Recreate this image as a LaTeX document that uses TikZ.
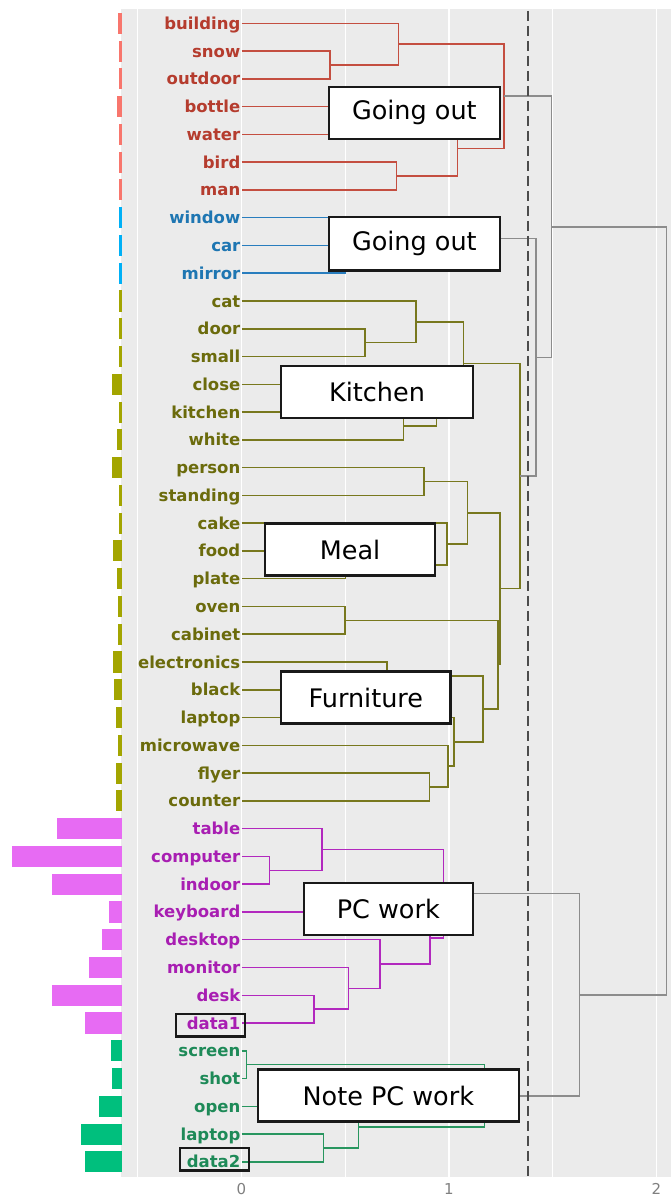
\documentclass[tikz,border=0pt]{standalone}
\usepackage{fontspec}
\setmainfont{DejaVu Sans}
\usetikzlibrary{fit}
\definecolor{tR}{RGB}{181,60,46}\definecolor{lR}{RGB}{196,78,64}\definecolor{bR}{HTML}{F8766D}
\definecolor{tB}{RGB}{30,118,178}\definecolor{lB}{RGB}{40,125,190}\definecolor{bB}{HTML}{00B0F6}
\definecolor{tO}{RGB}{107,107,12}\definecolor{lO}{RGB}{120,120,30}\definecolor{bO}{HTML}{A3A500}
\definecolor{tM}{RGB}{168,30,178}\definecolor{lM}{RGB}{178,40,190}\definecolor{bM}{HTML}{E76BF3}
\definecolor{tG}{RGB}{30,138,88}\definecolor{lG}{RGB}{40,150,95}\definecolor{bG}{HTML}{00BF7D}
\definecolor{lK}{RGB}{140,140,140}\definecolor{panelgrey}{HTML}{EBEBEB}
\tikzset{
  leaf/.style={anchor=east,inner xsep=1pt,inner ysep=0pt,font=\fontsize{16.5}{18}\selectfont\bfseries,text height=12pt,text depth=0pt},
  twig/.style={line width=1.5pt},
  twigR/.style={twig,draw=lR}, twigB/.style={twig,draw=lB}, twigO/.style={twig,draw=lO},
  twigM/.style={twig,draw=lM}, twigG/.style={twig,draw=lG}, twigK/.style={twig,draw=lK},
  tag/.style={draw=black!90,line width=2.2pt,fill=white,minimum height=52pt,inner sep=0pt,font=\fontsize{25.5}{28}\selectfont},
  hilite/.style={draw=black!90,line width=2.2pt,inner xsep=6.5pt,inner ysep=5.2pt},
  gmaj/.style={draw=white,line width=1.8pt},
  gmin/.style={draw=white,line width=1pt},
  cutline/.style={draw=black!70,line width=2pt,dash pattern=on 10pt off 5pt},
  tick/.style={text=black!50,font=\fontsize{15}{17}\selectfont},
}
\begin{document}
\begin{tikzpicture}[x=207.5pt,y=-27.77pt]
  \useasboundingbox (-1.1639,0.161) rectangle (2.0699,43.229);
  \fill[panelgrey] (-0.5807,0.485) rectangle (2.0699,42.53);
  \foreach \v in {-0.5,0.5,1.5} \draw[gmin] (\v,0.485) -- (\v,42.53);
  \foreach \v in {0,1,2} \draw[gmaj] (\v,0.485) -- (\v,42.53);
  \foreach \v in {0,1,2} \node[tick] (t\v) at (\v,42.98) {\v};

  \foreach \key/\word/\grp/\len [count=\i] in {
    building/building/R/3.3, snow/snow/R/2.7, outdoor/outdoor/R/2.7, bottle/bottle/R/4.3,
    water/water/R/2.7, bird/bird/R/2.7, man/man/R/2.7,
    window/window/B/2.7, car/car/B/2.7, mirror/mirror/B/2.7,
    cat/cat/O/2.7, door/door/O/2.7, small/small/O/2.7, close/close/O/10, kitchen/kitchen/O/2.7,
    white/white/O/5, person/person/O/9.3, standing/standing/O/2.7, cake/cake/O/2.7, food/food/O/8.3,
    plate/plate/O/4.5, oven/oven/O/3.3, cabinet/cabinet/O/3.3, electronics/electronics/O/8.3,
    black/black/O/7.3, laptop/laptop/O/5.3, microwave/microwave/O/3.3, flyer/flyer/O/6, counter/counter/O/6,
    table/table/M/65, computer/computer/M/110, indoor/indoor/M/69.3, keyboard/keyboard/M/12.7,
    desktop/desktop/M/20, monitor/monitor/M/32.7, desk/desk/M/69.3, data1/data1/M/36.7,
    screen/screen/G/11, shot/shot/G/10, open/open/G/22.7, laptop2/laptop/G/41, data2/data2/G/36.7}
  {
    \fill[b\grp] ({-0.577-\len/207.5},\i-0.38) rectangle (-0.577,\i+0.38);
    \node[leaf,text=t\grp] (\key) at (0,\i) {\word};
  }

  \coordinate (so) at (0.427,2.5);   \coordinate (bso) at (0.756,1.75);
  \coordinate (bw) at (0.60,4.5);    \coordinate (bm) at (0.748,6.5);
  \coordinate (bwbm) at (1.04,5.5);  \coordinate (redtop) at (1.265,3.625);
  \draw[twigR] (snow) -| (so) |- (outdoor);
  \draw[twigR] (building) -| (bso) |- (so);
  \draw[twigR] (bottle) -| (bw) |- (water);
  \draw[twigR] (bird) -| (bm) |- (man);
  \draw[twigR] (bw) -| (bwbm) |- (bm);
  \draw[twigR] (bso) -| (redtop) |- (bwbm);

  \coordinate (cm) at (0.5,9.5);     \coordinate (bluetop) at (1.1,8.75);
  \draw[twigB] (car) -| (cm) |- (mirror);
  \draw[twigB] (window) -| (bluetop) |- (cm);

  \coordinate (ds) at (0.595,12.5);  \coordinate (cds) at (0.841,11.75);
  \coordinate (kw) at (0.78,15.5);   \coordinate (ckw) at (0.94,14.75);
  \coordinate (kittop) at (1.07,13.25);
  \coordinate (ps) at (0.88,17.5);   \coordinate (fp) at (0.5,20.5);
  \coordinate (cfp) at (0.99,19.75); \coordinate (mealtop) at (1.09,18.625);
  \coordinate (oc) at (0.499,22.5);  \coordinate (eb) at (0.70,24.5);
  \coordinate (fc) at (0.905,28.5);  \coordinate (mfc) at (0.994,27.75);
  \coordinate (lmfc) at (1.024,26.875); \coordinate (furntop) at (1.163,25.6875);
  \coordinate (ocf) at (1.235,24.09375); \coordinate (mocf) at (1.245,21.359375);
  \coordinate (olivetop) at (1.342,17.3046875);
  \draw[twigO] (door) -| (ds) |- (small);
  \draw[twigO] (cat) -| (cds) |- (ds);
  \draw[twigO] (kitchen) -| (kw) |- (white);
  \draw[twigO] (close) -| (ckw) |- (kw);
  \draw[twigO] (cds) -| (kittop) |- (ckw);
  \draw[twigO] (person) -| (ps) |- (standing);
  \draw[twigO] (food) -| (fp) |- (plate);
  \draw[twigO] (cake) -| (cfp) |- (fp);
  \draw[twigO] (ps) -| (mealtop) |- (cfp);
  \draw[twigO] (oven) -| (oc) |- (cabinet);
  \draw[twigO] (electronics) -| (eb) |- (black);
  \draw[twigO] (flyer) -| (fc) |- (counter);
  \draw[twigO] (microwave) -| (mfc) |- (fc);
  \draw[twigO] (laptop) -| (lmfc) |- (mfc);
  \draw[twigO] (eb) -| (furntop) |- (lmfc);
  \draw[twigO] (oc) -| (ocf) |- (furntop);
  \draw[twigO] (mealtop) -| (mocf) |- (ocf);
  \draw[twigO] (kittop) -| (olivetop) |- (mocf);

  \coordinate (ci) at (0.134,31.5);  \coordinate (tci) at (0.387,30.75);
  \coordinate (dd) at (0.35,36.5);   \coordinate (mdd) at (0.515,35.75);
  \coordinate (dmdd) at (0.668,34.875); \coordinate (kd) at (0.908,33.9375);
  \coordinate (pctop) at (0.973,32.34375);
  \draw[twigM] (computer) -| (ci) |- (indoor);
  \draw[twigM] (table) -| (tci) |- (ci);
  \draw[twigM] (desk) -| (dd) |- (data1);
  \draw[twigM] (monitor) -| (mdd) |- (dd);
  \draw[twigM] (desktop) -| (dmdd) |- (mdd);
  \draw[twigM] (keyboard) -| (kd) |- (dmdd);
  \draw[twigM] (tci) -| (pctop) |- (kd);

  \coordinate (ss) at (0.025,38.5);  \coordinate (ld) at (0.394,41.5);
  \coordinate (old) at (0.563,40.75); \coordinate (notetop) at (1.17,39.625);
  \draw[twigG] (screen) -| (ss) |- (shot);
  \draw[twigG] (laptop2) -| (ld) |- (data2);
  \draw[twigG] (open) -| (old) |- (ld);
  \draw[twigG] (ss) -| (notetop) |- (old);

  \coordinate (bo) at (1.42,13.0273);  \coordinate (rbo) at (1.495,8.3262);
  \coordinate (pn) at (1.63,35.9844);  \coordinate (root) at (2.049,22.1553);
  \draw[twigK] (bluetop) -| (bo) |- (olivetop);
  \draw[twigK] (redtop) -| (rbo) |- (bo);
  \draw[twigK] (pctop) -| (pn) |- (notetop);
  \draw[twigK] (rbo) -| (root) |- (pn);

  \draw[cutline] (1.379,0.55) -- (1.379,42.53);

  \node[tag,minimum width=171pt] (goOut1) at (0.833,4.226) {Going out};
  \node[tag,minimum width=171pt,minimum height=53.5pt] (goOut2) at (0.833,8.94) {Going out};
  \node[tag,minimum width=192pt] (kitTag) at (0.653,14.266) {Kitchen};
  \node[tag,minimum width=170pt] (mealTag) at (0.523,19.95) {Meal};
  \node[tag,minimum width=169.5pt] (furnTag) at (0.599,25.28) {Furniture};
  \node[tag,minimum width=169pt] (pcTag) at (0.7075,32.905) {PC work};
  \node[tag,minimum width=261pt] (notePcTag) at (0.7075,39.61) {Note PC work};
  \node[hilite,fit=(data1),xshift=-3pt,yshift=-2pt] (data1Box) {};
  \node[hilite,fit=(data2),xshift=1pt,yshift=2.7pt] (data2Box) {};
\end{tikzpicture}
\end{document}
